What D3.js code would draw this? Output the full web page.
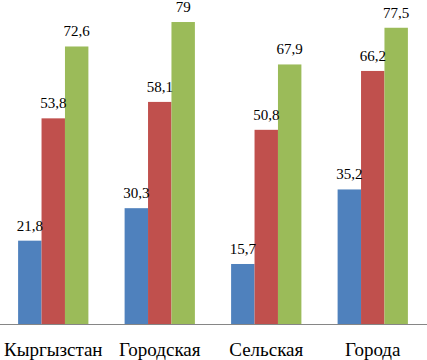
<!DOCTYPE html>
<html><head><meta charset="utf-8">
<script src="https://cdn.jsdelivr.net/npm/d3@7"></script>
</head><body style="margin:0">
<svg id="c" width="427" height="360" font-family="Times New Roman" style="display:block;font-family:'Times New Roman'"></svg>
<script>
const categories = ["Кыргызстан", "Городская", "Сельская", "Города"];
const seriesNames = ["s1", "s2", "s3"];
const series1 = [21.8, 30.3, 15.7, 35.2];
const series2 = [53.8, 58.1, 50.8, 66.2];
const series3 = [72.6, 79, 67.9, 77.5];
const colors = ["#4F81BD", "#C0504D", "#9BBB59"];

const FONT = '"Times New Roman"';
const allSeries = [series1, series2, series3];
const svg = d3.select("#c");
const baseY = 324;
const x0 = d3.scaleBand().domain(categories).range([0, 426]).paddingInner(0.34).paddingOuter(0.17);
const x1 = d3.scaleBand().domain(seriesNames).range([0, x0.bandwidth()]);
const y = d3.scaleLinear().domain([0, 80]).range([baseY, baseY - 305.8]);

const fmt = v => String(v).replace(".", ",");

const g = svg.append("g");
categories.forEach((c, i) => {
  allSeries.forEach((s, j) => {
    const bx = x0(c) + x1(seriesNames[j]);
    g.append("rect")
      .attr("x", bx).attr("y", y(s[i]))
      .attr("width", x1.bandwidth()).attr("height", baseY - y(s[i]))
      .attr("fill", colors[j]);
  });
});
categories.forEach((c, i) => {
  allSeries.forEach((s, j) => {
    const bx = x0(c) + x1(seriesNames[j]);
    svg.append("text")
      .attr("x", bx + x1.bandwidth() / 2).attr("y", y(s[i]) - 10)
      .attr("text-anchor", "middle")
      .attr("font-family", "Times New Roman")
      .style("font-family", FONT)
      .style("font-size", "15px")
      .text(fmt(s[i]));
  });
});

const axis = svg.append("g").attr("transform", `translate(0,${baseY})`)
  .call(d3.axisBottom(x0).tickSize(0).tickPadding(0));
axis.attr("font-family", "Times New Roman").attr("font-size", null);
axis.select(".domain").attr("d", "M0,0.5H427").attr("stroke", "#868686");
axis.selectAll("text")
  .attr("y", 32).attr("dy", 0)
  .attr("font-family", "Times New Roman")
  .style("font-family", FONT)
  .style("font-size", "19px").attr("fill", "#000");
</script>
</body></html>
